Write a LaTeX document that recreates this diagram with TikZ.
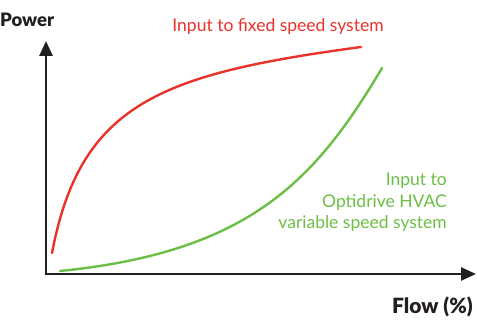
\documentclass[tikz,border=0pt]{standalone}
\usepackage{fontspec}
\setmainfont{Lato}[BoldFont={Lato Black}]
\usetikzlibrary{arrows.meta}
\definecolor{fixedred}{HTML}{E8322B}
\definecolor{vsdgreen}{HTML}{6DBE45}
\definecolor{axisgray}{HTML}{231F20}
\tikzset{
  axisline/.style={line width=2.6pt, draw=axisgray, -{Triangle[length=15pt,width=13pt]}},
  curve/.style={line width=2.4pt, line cap=round},
  axislabel/.style={text=axisgray, inner sep=0pt},
  curvelabel/.style={font=\fontsize{17.5}{21.5}\selectfont, inner sep=0pt}
}
\begin{document}
\begin{tikzpicture}[x=1pt,y=-1pt]
\useasboundingbox (0,0) rectangle (477,320);
% axes
\coordinate (origin) at (46,274);
\coordinate (ytip) at (46,41);
\coordinate (xtip) at (476,274);
\draw[axisline] ([yshift=-1.3pt]origin) -- (ytip);
\draw[axisline] ([xshift=-1.3pt]origin) -- (xtip);
\node[axislabel, font=\fontsize{18.5}{21}\selectfont\bfseries, anchor=base west] (power) at (0,27) {Power};
\node[axislabel, font=\fontsize{21}{24}\selectfont\bfseries, anchor=base east] (flow) at (473,314) {Flow (\%)};
% fixed speed input
\coordinate (r0) at (52,253);
\coordinate (r1) at (361,47);
\draw[curve, fixedred] (r0) .. controls (80.5,103) and (161,74) .. (r1);
% variable speed input
\coordinate (g0) at (60,271);
\coordinate (g1) at (382,68);
\draw[curve, vsdgreen] (g0) .. controls (250,252) and (315.7,179.8) .. (g1);
\node[curvelabel, text=fixedred, anchor=base] (fixedlbl) at (278,32) {Input to fixed speed system};
% base of a multi-line node is the baseline of its last line
\node[curvelabel, text=vsdgreen, anchor=base east, align=right] (vsdlbl) at (447,229)
  {Input to\\Optidrive HVAC\\variable speed system};
\end{tikzpicture}
\end{document}
